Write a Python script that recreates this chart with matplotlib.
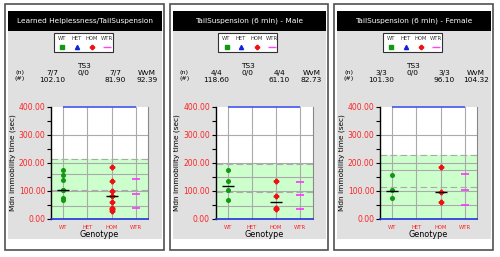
import matplotlib
matplotlib.use("Agg")
import matplotlib.pyplot as plt
from matplotlib.patches import Rectangle

# panel data
titles = ["Learned Helplessness/TailSuspension",
          "TailSuspension (6 min) - Male",
          "TailSuspension (6 min) - Female"]
genotypes = ["WT", "HET", "HOM", "WTR"]
wt_n = ["7/7", "4/4", "3/3"]
het_n = ["0/0", "0/0", "0/0"]
hom_n = ["7/7", "4/4", "3/3"]
wt_med = [102.10, 118.60, 101.30]
hom_med = [81.90, 61.10, 96.10]
wvm = [92.39, 82.73, 104.32]

wt_pts = [[176, 158, 138, 104, 102, 74, 68],
          [176, 137, 104, 68],
          [156, 103, 74]]
hom_pts = [[184, 134, 101, 82, 60, 41, 35, 30],
           [137, 83, 40, 35],
           [184, 96, 59]]
wtr_pts = [[144, 90, 38],
           [131, 84, 35],
           [160, 103, 49]]

band_top = [216, 197, 230]
band_lines = [[160, 104, 47], [150, 95, 47], [174, 114, 50]]
yticks = [0, 100, 200, 300, 400]

W, H = 500, 257
fig = plt.figure(figsize=(W / 100, H / 100), dpi=100)
fig.patch.set_facecolor("white")

bg = fig.add_axes([0, 0, 1, 1])
bg.set_xlim(0, W)
bg.set_ylim(H, 0)
bg.axis("off")

def px_axes(x0, y0, x1, y1):
    return fig.add_axes([x0 / W, 1 - y1 / H, (x1 - x0) / W, (y1 - y0) / H])

step = 164.5
for i in range(3):
    ox = i * step
    # frame, grey panel, title bar
    bg.add_patch(Rectangle((ox + 5, 3.5), 158.5, 246.5, fill=False, ec="#505050", lw=1.2))
    bg.add_patch(Rectangle((ox + 8, 11), 153.5, 228, fc="#e0e0e0", ec="none"))
    bg.add_patch(Rectangle((ox + 8, 11), 153.5, 20, fc="black", ec="none"))
    bg.text(ox + 85, 21, titles[i], color="white", fontsize=5.3,
            ha="center", va="center")

    # legend box
    bg.add_patch(Rectangle((ox + 53.5, 33), 59, 19, fc="white", ec="#303030", lw=0.8))
    leg_x = [62, 76.5, 92, 107]
    for gx, g in zip(leg_x, genotypes):
        bg.text(ox + gx, 39, g, fontsize=3.8, ha="center", va="center", color="#333333")
    bg.plot(ox + leg_x[0], 47, "s", color="#119911", ms=2.2)
    bg.plot(ox + leg_x[1], 46.5, "^", color="#1122dd", ms=3)
    bg.plot(ox + leg_x[2], 47, "P", color="#ee1111", ms=3)
    bg.plot(ox + leg_x[3], 47, "_", color="#ff44ff", ms=6, mew=1)

    # header numbers
    bg.text(ox + 83.5, 66, "TS3", fontsize=5.3, ha="center", va="center")
    bg.text(ox + 83.5, 73.5, het_n[i], fontsize=5.3, ha="center", va="center")
    bg.text(ox + 20, 72.5, "(n)", fontsize=4.6, ha="center", va="center")
    bg.text(ox + 20, 78.5, "(#)", fontsize=4.6, ha="center", va="center")
    bg.text(ox + 52, 73, wt_n[i], fontsize=5.3, ha="center", va="center")
    bg.text(ox + 52, 80, "%.2f" % wt_med[i], fontsize=5.3, ha="center", va="center")
    bg.text(ox + 115, 73, hom_n[i], fontsize=5.3, ha="center", va="center")
    bg.text(ox + 115, 80, "%.2f" % hom_med[i], fontsize=5.3, ha="center", va="center")
    bg.text(ox + 147, 73, "WvM", fontsize=5.3, ha="center", va="center")
    bg.text(ox + 147, 80, "%.2f" % wvm[i], fontsize=5.3, ha="center", va="center")

    # plot area
    ax = px_axes(ox + 51, 107, ox + 148, 219)
    ax.set_facecolor("white")
    ax.set_xlim(-0.5, 3.5)
    ax.set_ylim(0, 400)
    ax.axhspan(0, band_top[i], color="#ccffcc", zorder=0)
    ax.axhline(band_top[i], color="#aaaaaa", lw=0.8, ls=(0, (6, 3)), zorder=1)
    for j, v in enumerate(band_lines[i]):
        ax.axhline(v, color="#aaaaaa", lw=0.8, ls="-" if j != 1 else (0, (6, 3)), zorder=1)
    for v in [100, 200, 300]:
        ax.axhline(v, color="#aaaaaa", lw=0.8, zorder=1)
    for k in range(4):
        ax.axvline(k, color="#aaaaaa", lw=0.8, zorder=1)
    ax.hlines(400, 0, 3, color="#4455ee", lw=1.2, zorder=3, clip_on=False)
    ax.axhline(0, color="#2233dd", lw=1.2, zorder=3, clip_on=False)

    ax.plot([0] * len(wt_pts[i]), wt_pts[i], "o", color="#119911", ms=2.6, zorder=4)
    ax.plot([2] * len(hom_pts[i]), hom_pts[i], "P", color="#ee1111", ms=3.2, zorder=4)
    ax.plot([3] * len(wtr_pts[i]), wtr_pts[i], "_", color="#ff33ff", ms=6, mew=1.2, zorder=4)
    ax.plot([0, 2], [wt_med[i], hom_med[i]], "_", color="black", ms=8, mew=1, zorder=5)

    for s in ["top", "bottom"]:
        ax.spines[s].set_visible(False)
    ax.spines["right"].set_color("#888888")
    ax.spines["right"].set_linewidth(0.8)
    ax.spines["left"].set_color("black")
    ax.spines["left"].set_linewidth(1)

    ax.set_yticks(yticks)
    ax.set_yticklabels(["%.2f" % v for v in yticks], color="#ff2222", fontsize=5.5)
    ax.set_yticks(range(50, 400, 100), minor=True)
    ax.tick_params(axis="y", which="both", direction="out", length=3, width=0.8,
                   pad=1, color="black")
    ax.set_xticks(range(4))
    ax.set_xticklabels(genotypes, color="#ff2222", fontsize=3.8)
    ax.tick_params(axis="x", length=0, pad=4)
    ax.set_xlabel("Genotype", fontsize=5.8, labelpad=0.5)
    ax.set_ylabel("Mdn immobility time (sec)", fontsize=5.3, labelpad=2)

fig.savefig("out.png", dpi=100)
